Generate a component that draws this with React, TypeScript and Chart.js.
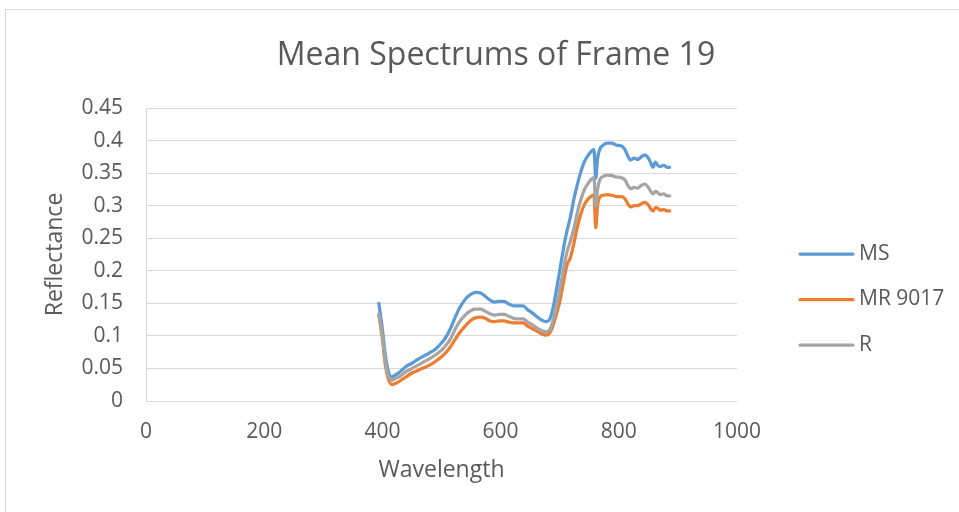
import React, { useEffect, useRef } from "react";
import { Chart, registerables } from "chart.js";

Chart.register(...registerables);

const chartTitle = "Mean Spectrums of Frame 19";
const xAxisTitle = "Wavelength";
const yAxisTitle = "Reflectance";
const seriesNames = ["MS", "MR 9017", "R"];
const seriesColors = ["#5B9BD5", "#ED7D31", "#A5A5A5"];

const wavelengths = [
  394, 400, 405, 410, 416, 422, 430, 440, 450, 460,
  470, 480, 490, 500, 508, 515, 522, 530, 540, 550,
  558, 566, 574, 582, 590, 598, 606, 614, 622, 630,
  638, 646, 654, 662, 670, 676, 682, 688, 694, 700,
  706, 712, 718, 724, 730, 736, 742, 748, 754, 758,
  761, 764, 768, 774, 780, 788, 796, 804, 810, 816,
  820, 826, 832, 838, 844, 850, 854, 858, 862, 866,
  870, 876, 882, 886,
];

const msValues = [
  0.150, 0.110, 0.070, 0.046, 0.037, 0.040, 0.045, 0.053, 0.058, 0.064,
  0.069, 0.074, 0.080, 0.089, 0.099, 0.111, 0.126, 0.142, 0.156, 0.164,
  0.167, 0.166, 0.161, 0.155, 0.152, 0.153, 0.153, 0.149, 0.146, 0.146,
  0.146, 0.140, 0.135, 0.129, 0.124, 0.122, 0.124, 0.140, 0.168, 0.200,
  0.232, 0.260, 0.282, 0.310, 0.333, 0.353, 0.368, 0.377, 0.384, 0.386,
  0.342, 0.372, 0.387, 0.393, 0.396, 0.396, 0.393, 0.392, 0.387, 0.375,
  0.370, 0.373, 0.371, 0.375, 0.378, 0.373, 0.366, 0.359, 0.367, 0.362,
  0.360, 0.362, 0.359, 0.359,
];

const mr9017Values = [
  0.132, 0.095, 0.055, 0.034, 0.025, 0.027, 0.031, 0.037, 0.043, 0.047,
  0.051, 0.055, 0.061, 0.068, 0.075, 0.083, 0.093, 0.104, 0.115, 0.124,
  0.128, 0.129, 0.127, 0.123, 0.122, 0.123, 0.123, 0.121, 0.120, 0.120,
  0.120, 0.115, 0.111, 0.107, 0.103, 0.101, 0.103, 0.114, 0.132, 0.152,
  0.180, 0.208, 0.220, 0.242, 0.268, 0.288, 0.302, 0.310, 0.315, 0.316,
  0.266, 0.300, 0.313, 0.316, 0.317, 0.316, 0.314, 0.314, 0.311, 0.302,
  0.298, 0.300, 0.300, 0.303, 0.305, 0.301, 0.295, 0.292, 0.297, 0.296,
  0.293, 0.294, 0.292, 0.292,
];

const rValues = [
  0.134, 0.100, 0.060, 0.039, 0.032, 0.035, 0.038, 0.045, 0.050, 0.055,
  0.060, 0.065, 0.071, 0.078, 0.086, 0.095, 0.108, 0.121, 0.132, 0.139,
  0.141, 0.141, 0.138, 0.134, 0.132, 0.133, 0.133, 0.130, 0.127, 0.126,
  0.126, 0.121, 0.117, 0.112, 0.108, 0.106, 0.108, 0.121, 0.144, 0.170,
  0.200, 0.228, 0.245, 0.265, 0.290, 0.310, 0.325, 0.334, 0.341, 0.343,
  0.299, 0.325, 0.340, 0.345, 0.347, 0.346, 0.344, 0.343, 0.340, 0.330,
  0.326, 0.328, 0.327, 0.331, 0.333, 0.328, 0.322, 0.318, 0.322, 0.320,
  0.317, 0.318, 0.315, 0.315,
];

const seriesValues = [msValues, mr9017Values, rValues];

const xTickMin = 0;
const xTickMax = 1000;
const xTickStep = 200;
const yTickMin = 0;
const yTickMax = 0.45;
const yTickStep = 0.05;

const FONT = "'Open Sans', sans-serif";
const TEXT = "#595959";
const GRID = "#D9D9D9";

const sideLegend = {
  id: "sideLegend",
  afterDraw(chart: any) {
    const ctx = chart.ctx;
    const area = chart.chartArea;
    const x0 = area.right + 63;
    const lineLen = 53;
    const firstY = 254;
    const gap = 45.5;
    ctx.save();
    chart.data.datasets.forEach((ds: any, i: number) => {
      const y = firstY + i * gap;
      ctx.strokeStyle = ds.borderColor;
      ctx.lineWidth = 3.25;
      ctx.lineCap = "round";
      ctx.beginPath();
      ctx.moveTo(x0, y);
      ctx.lineTo(x0 + lineLen, y);
      ctx.stroke();
      ctx.fillStyle = TEXT;
      ctx.font = `21px ${FONT}`;
      ctx.textBaseline = "middle";
      ctx.textAlign = "left";
      ctx.fillText(ds.label, x0 + lineLen + 6, y);
    });
    ctx.restore();
  },
};

export default function App() {
  const canvasRef = useRef<HTMLCanvasElement | null>(null);

  useEffect(() => {
    const canvas = canvasRef.current;
    if (!canvas) return;
    const datasets = seriesNames.map((name, s) => ({
      label: name,
      data: wavelengths.map((w, i) => ({ x: w, y: seriesValues[s][i] })),
      borderColor: seriesColors[s],
      backgroundColor: seriesColors[s],
      borderWidth: 3.25,
      pointRadius: 0,
      pointHoverRadius: 0,
      fill: false,
      cubicInterpolationMode: "monotone" as const,
      borderCapStyle: "round" as const,
      borderJoinStyle: "round" as const,
      order: seriesNames.length - 1 - s,
    }));

    const chart = new Chart(canvas, {
      type: "line",
      data: { datasets },
      plugins: [sideLegend],
      options: {
        animation: false,
        responsive: false,
        events: [],
        layout: { padding: { left: 42, right: 9, top: 0, bottom: 28 } },
        plugins: {
          legend: { display: false },
          tooltip: { enabled: false },
          title: {
            display: true,
            text: chartTitle,
            color: TEXT,
            font: { family: FONT, size: 32, weight: "normal" },
            padding: { top: 37, bottom: 32.6 },
          },
        },
        scales: {
          x: {
            type: "linear",
            min: xTickMin,
            max: xTickMax,
            grid: { display: false, drawTicks: false },
            border: { display: false },
            ticks: {
              stepSize: xTickStep,
              color: TEXT,
              font: { family: FONT, size: 21 },
              padding: 18,
              maxRotation: 0,
              callback: (v: any) => String(v),
            },
            title: {
              display: true,
              text: xAxisTitle,
              color: TEXT,
              font: { family: FONT, size: 23 },
              padding: 0,
            },
            afterFit(scale: any) {
              scale.height = 83;
            },
          },
          y: {
            type: "linear",
            position: "left",
            min: yTickMin,
            max: yTickMax,
            grid: { color: GRID, lineWidth: 1, drawTicks: false },
            border: { display: true, color: GRID, width: 1 },
            ticks: {
              stepSize: yTickStep,
              color: TEXT,
              font: { family: FONT, size: 21 },
              padding: 23,
              callback: (v: any) => String(Math.round(Number(v) * 100) / 100),
            },
            title: {
              display: true,
              text: yAxisTitle,
              color: TEXT,
              font: { family: FONT, size: 23 },
              padding: 0,
            },
            afterFit(scale: any) {
              scale.width = 104;
            },
          },
          legendSpace: {
            type: "linear",
            position: "right",
            display: true,
            grid: { display: false, drawTicks: false },
            border: { display: false },
            ticks: { display: false },
            afterFit(scale: any) {
              scale.width = 213;
            },
          },
        },
      },
    } as any);
    return () => chart.destroy();
  }, []);

  return (
    <div
      style={{
        position: "fixed",
        left: 0,
        top: 0,
        width: 959,
        height: 512,
        overflow: "hidden",
        background: "#ffffff",
      }}
    >
      <div
        style={{
          position: "absolute",
          left: 5,
          top: 9,
          right: 0,
          bottom: 0,
          borderLeft: `1px solid ${GRID}`,
          borderTop: `1px solid ${GRID}`,
        }}
      />
      <canvas
        ref={canvasRef}
        width={959}
        height={512}
        style={{ position: "absolute", left: 0, top: 0 }}
      />
    </div>
  );
}
